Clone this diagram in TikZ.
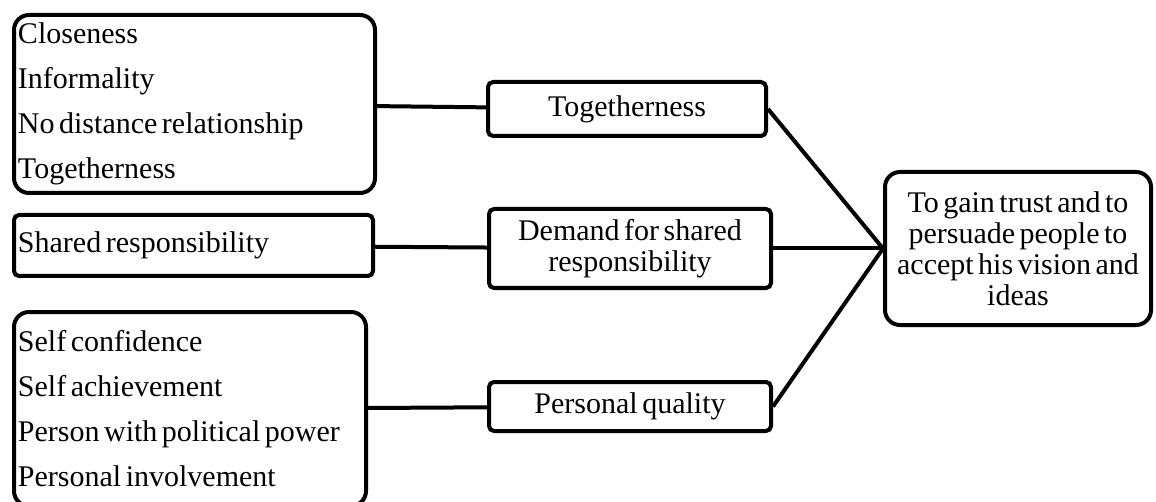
\documentclass[tikz,border=0pt]{standalone}
\usepackage{fontspec}
\setmainfont[WordSpace=0.6]{Liberation Serif}

\begin{document}
\begin{tikzpicture}[x=0.5pt,y=-0.5pt,line width=2pt,
  listbox/.style={draw,rounded corners=7.5pt,align=flush left,inner xsep=2pt,inner ysep=0pt,
    font=\fontsize{15}{22.5}\selectfont},
  midbox/.style={draw,rounded corners=2.5pt,align=center,minimum width=141pt,inner sep=1pt,
    font=\fontsize{15}{15.5}\selectfont},
  goalbox/.style={draw,rounded corners=7.5pt,align=center,minimum width=133pt,minimum height=76.5pt,
    inner sep=1pt,font=\fontsize{15}{15.5}\selectfont}]
  \useasboundingbox (0,0) rectangle (1156,502);

  \node[listbox,text width=176.5pt,minimum height=89pt](close) at (194.5,104)
    {Closeness\\Informality\\No distance relationship\\Togetherness};
  \node[listbox,text width=175.5pt,minimum height=30.5pt,rounded corners=2.5pt](shared) at (193.5,245.5)
    {Shared responsibility};
  \node[listbox,text width=172pt,minimum height=97pt](self) at (190,409)
    {Self confidence\\Self achievement\\Person with political power\\Personal involvement};

  \node[midbox,minimum width=139pt,minimum height=27pt](together) at (627,109) {Togetherness};
  \node[midbox,minimum height=39.5pt](demand) at (630,248.5) {Demand for shared\\responsibility};
  \node[midbox,minimum height=24.5pt](quality) at (630,406.5) {Personal quality};

  \node[goalbox](goal) at (1018,248.5)
    {To gain trust and to\\persuade people to\\accept his vision and\\ideas};

  \path(close) edge (together);
  \path(shared) edge (demand);
  \path(self) edge (quality);
  \path(together.east) edge (goal.west);
  \path(demand.east) edge (goal.west);
  \path(quality.east) edge (goal.west);
\end{tikzpicture}
\end{document}
